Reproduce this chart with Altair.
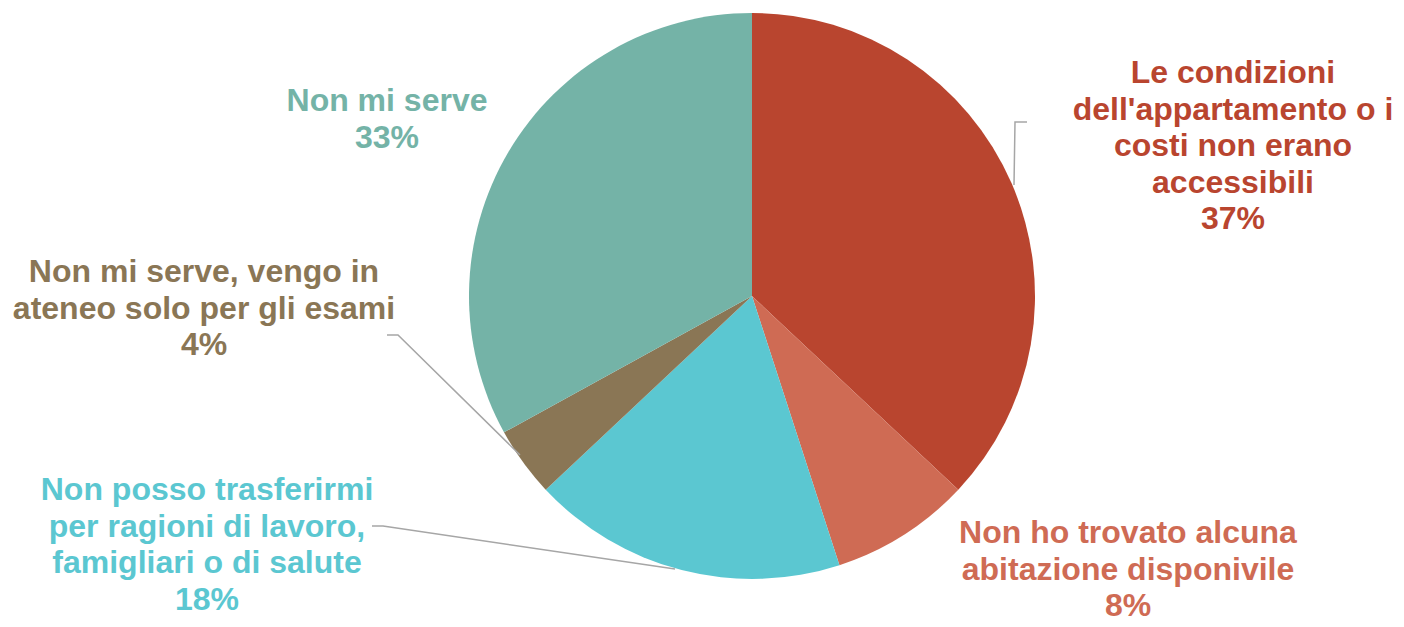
import altair as alt
import pandas as pd

categories = [
    "Le condizioni dell'appartamento o i costi non erano accessibili",
    "Non ho trovato alcuna abitazione disponivile",
    "Non posso trasferirmi per ragioni di lavoro, famigliari o di salute",
    "Non mi serve, vengo in ateneo solo per gli esami",
    "Non mi serve",
]
values = [37, 8, 18, 4, 33]
label_lines = [
    ["Le condizioni", "dell'appartamento o i", "costi non erano", "accessibili"],
    ["Non ho trovato alcuna", "abitazione disponivile"],
    ["Non posso trasferirmi", "per ragioni di lavoro,", "famigliari o di salute"],
    ["Non mi serve, vengo in", "ateneo solo per gli esami"],
    ["Non mi serve"],
]
colors = ["#B9452F", "#CF6B54", "#5BC7D1", "#8A7655", "#74B3A7"]

# layout (pixel positions in plot area)
CX, CY, R = 744, 288, 283
label_pos = [(1225, 65), (1120, 525), (199, 482), (196, 264), (379, 93)]
leaders = [
    [(1019, 114), (1007, 114), (1006, 177)],
    [],
    [(364, 518), (375, 518), (667, 561)],
    [(379, 327), (390, 327), (512, 447)],
    [],
]

W, H = 1388, 611

pie_df = pd.DataFrame({"cat": categories, "value": values, "order": list(range(len(values)))})
lab_df = pd.DataFrame({
    "cat": categories,
    "text": ["\n".join(l + [f"{v}%"]) for l, v in zip(label_lines, values)],
    "x": [p[0] for p in label_pos],
    "y": [p[1] for p in label_pos],
})
rows = []
for i, seg in enumerate(leaders):
    for j, (x, y) in enumerate(seg):
        rows.append({"seg": i, "k": j, "x": x, "y": y})
lead_df = pd.DataFrame(rows)

color_scale = alt.Scale(domain=categories, range=colors)

pie = alt.Chart(pie_df).mark_arc(radius=R).encode(
    theta=alt.Theta("value:Q", stack=True),
    order=alt.Order("order:Q"),
    color=alt.Color("cat:N", scale=color_scale, legend=None),
    x=alt.value(CX),
    y=alt.value(CY),
)

lines = alt.Chart(lead_df).mark_line(color="#A6A6A6", strokeWidth=1.5).encode(
    x=alt.X("x:Q", scale=None, axis=None),
    y=alt.Y("y:Q", scale=None, axis=None),
    detail="seg:N",
    order="k:Q",
)

labels = alt.Chart(lab_df).mark_text(
    font="Liberation Sans", fontWeight="bold", fontSize=32,
    lineBreak="\n", lineHeight=36.5, align="center", baseline="middle",
).encode(
    x=alt.X("x:Q", scale=None, axis=None),
    y=alt.Y("y:Q", scale=None, axis=None),
    text="text:N",
    color=alt.Color("cat:N", scale=color_scale, legend=None),
)

chart = alt.layer(pie, lines, labels).properties(
    width=W, height=H, padding=0, autosize=alt.AutoSizeParams(type="none"),
).configure_view(stroke=None)

chart.save("out.html", embed_options={"renderer": "svg", "actions": False})
